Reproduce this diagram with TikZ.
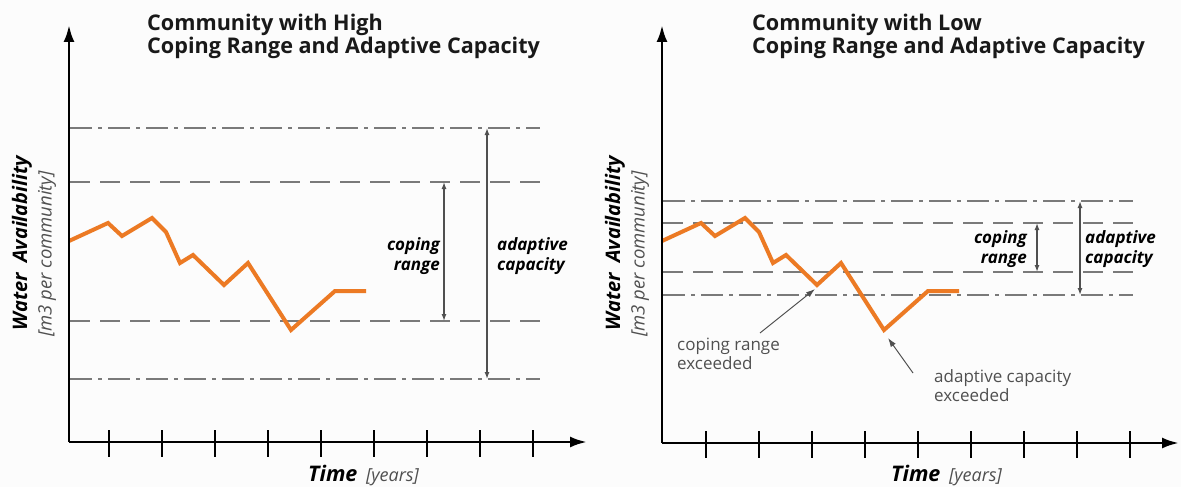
\documentclass[tikz,border=0pt]{standalone}
\usepackage{fontspec}
\setmainfont{Open Sans}
\usepackage{tikz}
\usetikzlibrary{arrows.meta}
\definecolor{waterorange}{HTML}{EC7A24}
\definecolor{bandgray}{HTML}{7A7A7A}
\definecolor{notegray}{HTML}{505050}
\tikzset{
    axis/.style={draw=black, line width=2.8pt, -{Latex[length=17pt, width=11pt]}},
    tick/.style={draw=black, line width=1.8pt},
    coping/.style={draw=bandgray, line width=2.5pt, dash pattern=on 20pt off 10pt}, % coping range limits
    adaptive/.style={draw=bandgray, line width=2.5pt, dash pattern=on 22pt off 6pt on 4pt off 6pt}, % adaptive capacity limits
    span/.style={draw=notegray, line width=1.3pt, {Latex[length=7pt, width=5pt]}-{Latex[length=7pt, width=5pt]}},
    water/.style={draw=waterorange, line width=4pt, line join=miter},
    note/.style={draw=notegray, line width=1pt, -{Latex[length=9pt, width=6pt]}},
    title/.style={font=\fontsize{21.6}{24}\selectfont\bfseries, text=black!90, align=left, inner sep=0},
    bandlabel/.style={font=\fontsize{17}{20}\selectfont\bfseries\itshape, inner sep=0},
    notelabel/.style={font=\fontsize{17}{19}\selectfont, text=notegray, align=left, inner sep=0},
    ylabel/.style={font=\fontsize{20}{20}\selectfont\bfseries\itshape, rotate=90, inner sep=0},
    yunit/.style={font=\fontsize{18.5}{16}\selectfont\itshape, text=notegray, rotate=90, inner sep=0},
    xlabel/.style={font=\fontsize{21.5}{20}\selectfont\bfseries\itshape, inner sep=0},
    xunit/.style={font=\fontsize{18}{16}\selectfont\itshape, text=notegray, inner sep=0}
}
\begin{document}
\begin{tikzpicture}[x=1pt, y=-1pt]
        \useasboundingbox[fill=black!1] (0,0) rectangle (1181,487);

        % high coping range
        \coordinate (origin_high) at (69,442);
        \coordinate (ytop_high) at (69,25);
        \coordinate (xend_high) at (587,442);
        \foreach \i in {0,...,8} {
            \draw[tick] (109+53*\i,430) -- (109+53*\i,457);
        }
        \coordinate (ac_top_high_l) at (70,128);
        \coordinate (ac_top_high_r) at (540,128);
        \coordinate (cr_top_high_l) at (70,182);
        \coordinate (cr_top_high_r) at (540,182);
        \coordinate (cr_bot_high_l) at (70,321);
        \coordinate (cr_bot_high_r) at (540,321);
        \coordinate (ac_bot_high_l) at (70,379);
        \coordinate (ac_bot_high_r) at (540,379);
        \draw[adaptive] (ac_top_high_l) to (ac_top_high_r);
        \draw[coping] (cr_top_high_l) to (cr_top_high_r);
        \draw[coping] (cr_bot_high_l) to (cr_bot_high_r);
        \draw[adaptive] (ac_bot_high_l) to (ac_bot_high_r);
        \draw[water] (69,241) -- (108,223) -- (122,236) -- (152,218) -- (166,232) -- (180,263) -- (193,255) -- (224,285) -- (248,263) -- (291,330) -- (335,291) -- (366,291);
        \draw[axis] (origin_high) to (xend_high);
        \draw[axis] (origin_high) to (ytop_high);

        \coordinate (cr_arrow_top_high) at (444,182);
        \coordinate (cr_arrow_bot_high) at (444,321);
        \coordinate (ac_arrow_top_high) at (487,128);
        \coordinate (ac_arrow_bot_high) at (487,379);
        \draw[span] (cr_arrow_top_high) to (cr_arrow_bot_high);
        \draw[span] (ac_arrow_top_high) to (ac_arrow_bot_high);
        \node[bandlabel, anchor=base east] (coping_high) at (440,250) {coping};
        \node[bandlabel, anchor=base east] (range_high) at (440,270) {range};
        \node[bandlabel, anchor=base west] (adaptive_high) at (497,250) {adaptive};
        \node[bandlabel, anchor=base west] (capacity_high) at (497,270) {capacity};

        \node[title, anchor=base west] (title_high) at (147,54) {Community with High\\Coping Range and Adaptive Capacity};
        \node[ylabel] (water_high) at (22,243) {Water\ \ Availability};
        \node[yunit] (unit_high) at (47,254) {[m3 per community]};
        \node[xlabel, anchor=base west] (time_high) at (308,481) {Time};
        \node[xunit, anchor=base west] (years_high) at (366,481) {[years]};

        % low coping range
        \coordinate (origin_low) at (662,443);
        \coordinate (ytop_low) at (662,25);
        \coordinate (xend_low) at (1179,443);
        \foreach \i in {0,...,8} {
            \draw[tick] (706+53*\i,431) -- (706+53*\i,458);
        }
        \coordinate (ac_top_low_l) at (663,201);
        \coordinate (ac_top_low_r) at (1133,201);
        \coordinate (cr_top_low_l) at (663,223);
        \coordinate (cr_top_low_r) at (1133,223);
        \coordinate (cr_bot_low_l) at (663,272);
        \coordinate (cr_bot_low_r) at (1133,272);
        \coordinate (ac_bot_low_l) at (663,295);
        \coordinate (ac_bot_low_r) at (1133,295);
        \draw[adaptive] (ac_top_low_l) to (ac_top_low_r);
        \draw[coping] (cr_top_low_l) to (cr_top_low_r);
        \draw[coping] (cr_bot_low_l) to (cr_bot_low_r);
        \draw[adaptive] (ac_bot_low_l) to (ac_bot_low_r);
        \draw[water] (662,241) -- (701,223) -- (715,236) -- (745,218) -- (759,232) -- (773,263) -- (786,255) -- (817,285) -- (841,263) -- (884,330) -- (928,291) -- (959,291);
        \draw[axis] (origin_low) to (xend_low);
        \draw[axis] (origin_low) to (ytop_low);

        \coordinate (cr_arrow_top_low) at (1037,223);
        \coordinate (cr_arrow_bot_low) at (1037,272);
        \coordinate (ac_arrow_top_low) at (1080,201);
        \coordinate (ac_arrow_bot_low) at (1080,295);
        \draw[span] (cr_arrow_top_low) to (cr_arrow_bot_low);
        \draw[span] (ac_arrow_top_low) to (ac_arrow_bot_low);
        \node[bandlabel, anchor=base east] (coping_low) at (1027,243) {coping};
        \node[bandlabel, anchor=base east] (range_low) at (1027,263) {range};
        \node[bandlabel, anchor=base west] (adaptive_low) at (1085,243) {adaptive};
        \node[bandlabel, anchor=base west] (capacity_low) at (1085,263) {capacity};

        \node[title, anchor=base west] (title_low) at (752,54) {Community with Low\\Coping Range and Adaptive Capacity};
        \node[ylabel] (water_low) at (615,243) {Water\ \ Availability};
        \node[yunit] (unit_low) at (640,254) {[m3 per community]};
        \node[xlabel, anchor=base west] (time_low) at (891,481) {Time};
        \node[xunit, anchor=base west] (years_low) at (949,481) {[years]};

        \node[notelabel, anchor=base west] (exceed_cr) at (677,369) {coping range\\exceeded};
        \node[notelabel, anchor=base west] (exceed_ac) at (934,401) {adaptive capacity\\exceeded};
        \coordinate (exceed_cr_tail) at (760,333);
        \coordinate (exceed_cr_tip) at (815,289);
        \coordinate (exceed_ac_tail) at (913,373);
        \coordinate (exceed_ac_tip) at (888,338);
        \draw[note] (exceed_cr_tail) to (exceed_cr_tip);
        \draw[note] (exceed_ac_tail) to (exceed_ac_tip);
      \end{tikzpicture}
\end{document}
